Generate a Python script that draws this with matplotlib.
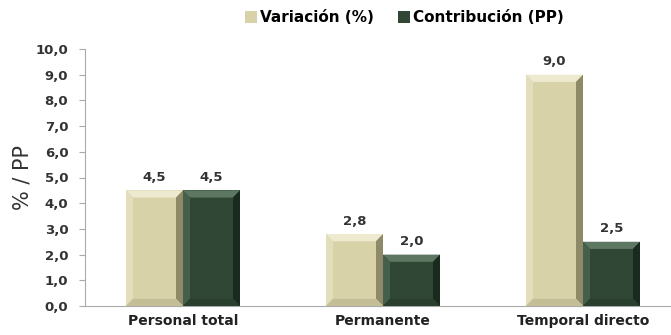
import matplotlib
matplotlib.use("Agg")
import matplotlib.pyplot as plt
from matplotlib.patches import Polygon
import numpy as np

categories = ["Personal total", "Permanente", "Temporal directo"]
variacion = [4.5, 2.8, 9.0]
contribucion = [4.5, 2.0, 2.5]
series_names = ["Variación (%)", "Contribución (PP)"]
yticks = [0, 1, 2, 3, 4, 5, 6, 7, 8, 9, 10]

plt.rcParams["font.family"] = ["DejaVu Sans"]

fig = plt.figure(figsize=(6.71, 3.35), dpi=100)
ax = fig.add_axes([85 / 671, 29 / 335, 1 - 85 / 671, 257 / 335])

x = np.arange(len(categories))
w = 0.285
styles = [
    # face, top, left, right, bottom
    ("#D8D2A9", "#EEEAD0", "#E2DDBB", "#8E8966", "#C4BE96"),
    ("#2F4734", "#5E7763", "#45604A", "#1B2A1F", "#2A3F2E"),
]

def bevel(ax, rect, cols):
    x0, y0 = rect.get_x(), rect.get_y()
    x1, y1 = x0 + rect.get_width(), y0 + rect.get_height()
    bx = 0.035
    by = 0.28
    face, top, left, right, bottom = cols
    ax.add_patch(Polygon([(x0, y1), (x1, y1), (x1 - bx, y1 - by), (x0 + bx, y1 - by)],
                         closed=True, facecolor=top, edgecolor="none", zorder=3))
    ax.add_patch(Polygon([(x0, y0), (x0, y1), (x0 + bx, y1 - by), (x0 + bx, y0 + by)],
                         closed=True, facecolor=left, edgecolor="none", zorder=3))
    ax.add_patch(Polygon([(x1, y0), (x1, y1), (x1 - bx, y1 - by), (x1 - bx, y0 + by)],
                         closed=True, facecolor=right, edgecolor="none", zorder=3))
    ax.add_patch(Polygon([(x0, y0), (x1, y0), (x1 - bx, y0 + by), (x0 + bx, y0 + by)],
                         closed=True, facecolor=bottom, edgecolor="none", zorder=3))

for i, (vals, name) in enumerate(zip([variacion, contribucion], series_names)):
    pos = x + (i - 0.5) * w
    bars = ax.bar(pos, vals, width=w, color=styles[i][0], edgecolor="none", zorder=2, label=name)
    for rect, v in zip(bars, vals):
        bevel(ax, rect, styles[i])
        ax.text(rect.get_x() + rect.get_width() / 2, v + 0.25, f"{v:.1f}".replace(".", ","),
                ha="center", va="bottom", fontsize=9.5, fontweight="bold", color="#333333")

ax.set_xlim(-0.49, 2.44)
ax.set_ylim(0, 10)
ax.set_yticks(yticks)
ax.set_yticklabels([f"{t:.1f}".replace(".", ",") for t in yticks],
                   fontsize=9.5, fontweight="bold", color="#333333")
ax.set_xticks(x)
ax.set_xticklabels(categories, fontsize=10, fontweight="bold", color="#222222")
ax.tick_params(axis="x", length=0, pad=6)
ax.tick_params(axis="y", length=4, color="#AAAAAA", pad=8)
for s in ["top", "right"]:
    ax.spines[s].set_visible(False)
ax.spines["left"].set_color("#AAAAAA")
ax.spines["bottom"].set_color("#AAAAAA")
ax.set_ylabel("% / PP", fontsize=15, color="#333333", labelpad=2)

ax.legend(loc="lower center", bbox_to_anchor=(0.545, 1.04), ncol=2, frameon=False,
          prop={"weight": "bold", "size": 11}, handlelength=0.8, handleheight=0.8,
          columnspacing=1.6, handletextpad=0.2)

fig.savefig("out.png", dpi=100)
